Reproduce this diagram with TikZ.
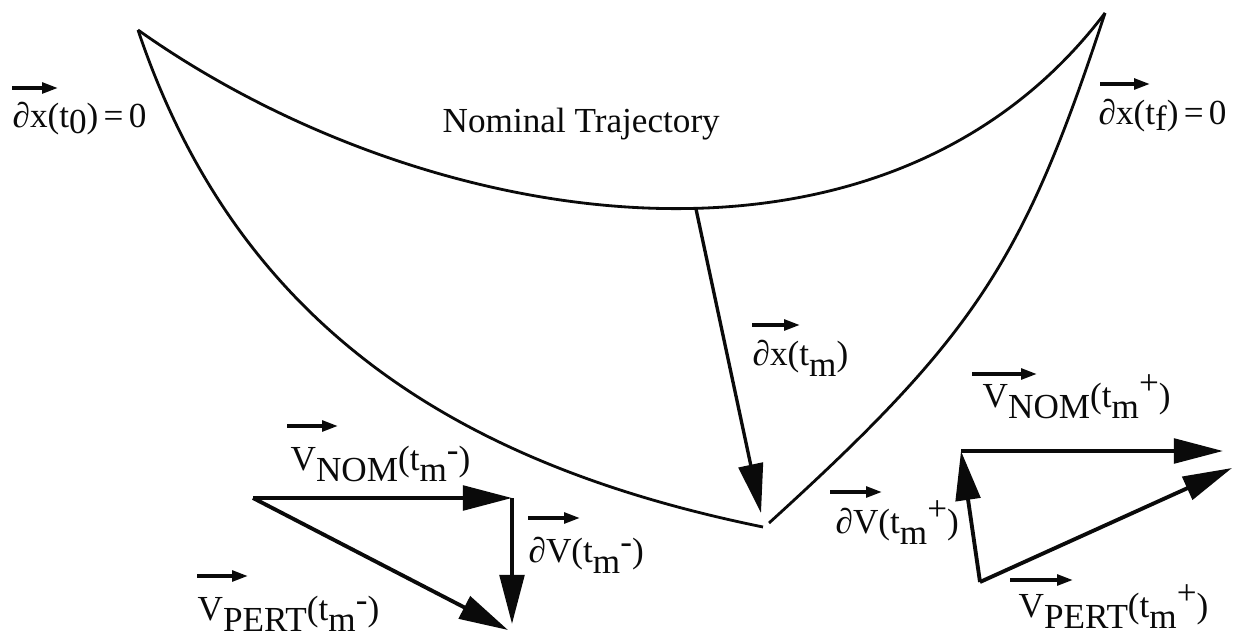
\documentclass[tikz,border=0pt]{standalone}
\usepackage{fontspec}
\setmainfont{Liberation Serif}
\usepackage{xcolor}
\usepackage{tikz}
\usetikzlibrary{arrows.meta}
\definecolor{ink}{HTML}{0A0A0A}
\tikzset{traj/.style={ink,line width=0.8pt},
vecbig/.style={-{Triangle[length=14pt,width=7pt]},line width=1.1pt,ink},
dev/.style={-{Triangle[length=14pt,width=7pt]},line width=0.95pt,ink},
tag/.style={-{Triangle[length=4.5pt,width=3pt]},line width=1pt,ink},
lbl/.style={inner sep=0pt,anchor=base west,text=ink,font=\fontsize{10}{12}\selectfont}}
\newcommand{\subtx}[1]{\raisebox{-3.4pt}{#1}}
\newcommand{\subsm}[1]{\raisebox{-1.5pt}{#1}}
\newcommand{\minustx}{\raisebox{2.3pt}{-}}
\newcommand{\plustx}{\raisebox{3.5pt}{+}}
\newcommand{\eqtx}{\kern1.5pt=\kern1.5pt}

\begin{document}
\begin{tikzpicture}[x=0.01cm,y=-0.01cm]
\useasboundingbox (0,0) rectangle (1240,643);
% the two ends and the split point of the trajectory
\coordinate (c0) at (138,30);
\coordinate (cf) at (1105,13);
\coordinate (mL) at (763,527);
\coordinate (mR) at (769,523);
\coordinate (tm) at (696,209);
\coordinate (tmx) at (761,513);
\draw[traj] (c0) .. controls (420,230) and (880,310) .. (cf);
\draw[traj] (c0) .. controls (240,334) and (469,467) .. (mL);
\draw[traj] (cf) .. controls (1024,260) and (976,335) .. (mR);
\draw[dev] (tm)--(tmx);
\node[lbl] (nom) at (442,133) {Nominal Trajectory};
% velocity triangle before the maneuver
\coordinate (a0) at (253,498);
\coordinate (a1) at (512,498);
\coordinate (a2) at (512,624);
\coordinate (a3) at (508,630);
\draw[vecbig] (a0)--(a1);
\draw[vecbig] (a1)--(a2);
\draw[vecbig] (a0)--(a3);
% velocity triangle after the maneuver
\coordinate (b0) at (980,582);
\coordinate (b1) at (961,451);
\coordinate (b2) at (1223,451);
\coordinate (b3) at (1232,468);
\draw[vecbig] (b0)--(b1);
\draw[vecbig] (b1)--(b2);
\draw[vecbig] (b0)--(b3);
% labels
\node[lbl] (x0) at (12,128) {∂x(t\subsm{0})\eqtx 0};
\node[lbl] (xf) at (1098,125) {∂x(t\subsm{f})\eqtx 0};
\node[lbl] (xm) at (752,365) {∂x(t\subtx{m})};
\node[lbl] (nomL) at (290,470) {V\subtx{NOM}(t\subtx{m}\minustx)};
\node[lbl] (dvL) at (528,562) {∂V(t\subtx{m}\minustx)};
\node[lbl] (pertL) at (197,620) {V\subtx{PERT}(t\subtx{m}\minustx)};
\node[lbl] (nomR) at (982,407) {V\subtx{NOM}(t\subtx{m}\plustx)};
\node[lbl] (dvR) at (835,533) {∂V(t\subtx{m}\plustx)};
\node[lbl] (pertR) at (1018,617) {V\subtx{PERT}(t\subtx{m}\plustx)};
\draw[tag] ([shift={(0,-40)}]x0.base west) -- ++(46,0);
\draw[tag] ([shift={(2,-41)}]xf.base west) -- ++(50,0);
\draw[tag] ([shift={(0,-40)}]xm.base west) -- ++(48,0);
\draw[tag] ([shift={(-3,-44)}]nomL.base west) -- ++(51,0);
\draw[tag] ([shift={(0,-44)}]dvL.base west) -- ++(52,0);
\draw[tag] ([shift={(0,-44)}]pertL.base west) -- ++(51,0);
\draw[tag] ([shift={(-10,-33)}]nomR.base west) -- ++(65,0);
\draw[tag] ([shift={(-5,-41)}]dvR.base west) -- ++(52,0);
\draw[tag] ([shift={(-8,-37)}]pertR.base west) -- ++(63,0);
\end{tikzpicture}
\end{document}
